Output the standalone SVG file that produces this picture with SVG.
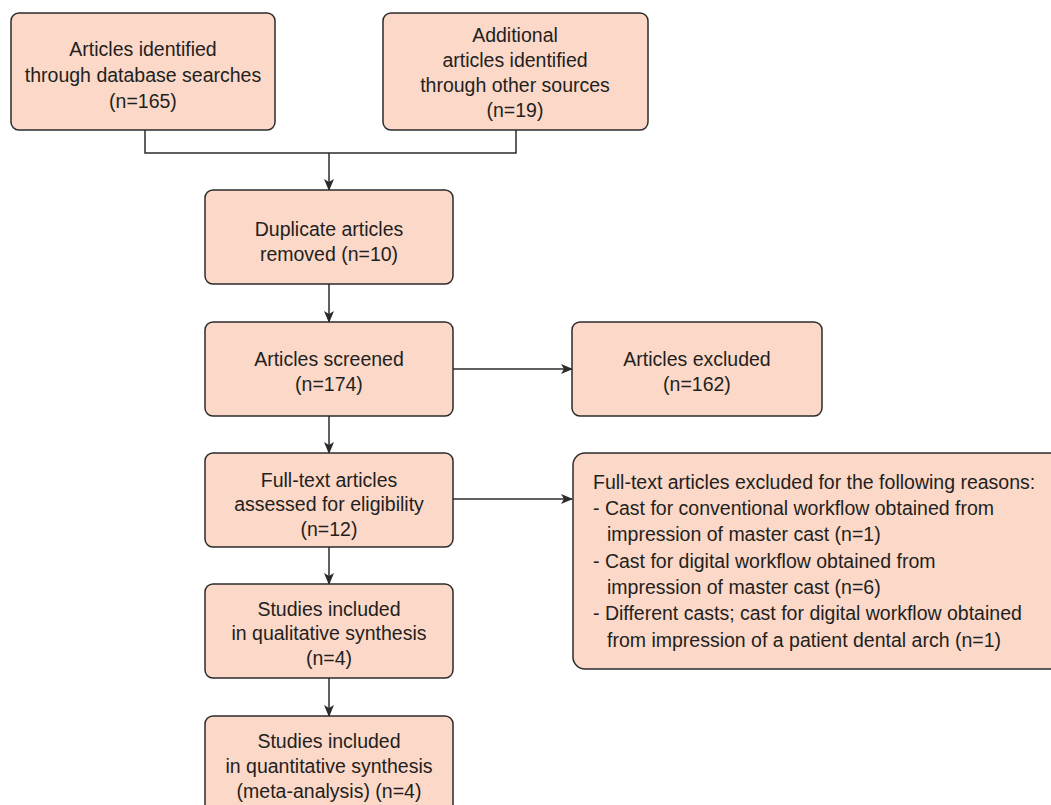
<svg xmlns="http://www.w3.org/2000/svg" width="1051" height="805" viewBox="0 0 1051 805">
<style>
.box{fill:#fbd8c8;stroke:#2b2b2b;stroke-width:1.5}
text{font-family:"Liberation Sans",Arial,sans-serif;font-size:19.5px;fill:#231f20}
.c{text-anchor:middle}
.ln{fill:none;stroke:#2b2b2b;stroke-width:1.5}
</style>
<defs>
<marker id="ah" markerWidth="12" markerHeight="10" refX="11" refY="5" orient="auto" markerUnits="userSpaceOnUse">
<path d="M0,0 L12,5 L0,10 L3,5 Z" fill="#2b2b2b"/>
</marker>
</defs>
<rect width="1051" height="805" fill="#fff"/>
<g id="connectors">
<path class="ln" d="M145,130 V153 H516 V130"/>
<path class="ln" d="M329,153 V190" marker-end="url(#ah)"/>
<path class="ln" d="M329,284 V322" marker-end="url(#ah)"/>
<path class="ln" d="M453,369 H572" marker-end="url(#ah)"/>
<path class="ln" d="M329,416 V453" marker-end="url(#ah)"/>
<path class="ln" d="M453,499 H572" marker-end="url(#ah)"/>
<path class="ln" d="M329,547 V584" marker-end="url(#ah)"/>
<path class="ln" d="M329,678 V716" marker-end="url(#ah)"/>
</g>
<g id="n1">
<rect class="box" x="11" y="13" width="264" height="117" rx="8"/>
<text class="c" x="143" y="56">Articles identified</text>
<text class="c" x="143" y="82">through database searches</text>
<text class="c" x="143" y="108">(n=165)</text>
</g>
<g id="n2">
<rect class="box" x="383" y="13" width="265" height="117" rx="8"/>
<text class="c" x="515" y="42">Additional</text>
<text class="c" x="515" y="67">articles identified</text>
<text class="c" x="515" y="92">through other sources</text>
<text class="c" x="515" y="117">(n=19)</text>
</g>
<g id="n3">
<rect class="box" x="205" y="190" width="248" height="94" rx="8"/>
<text class="c" x="329" y="236">Duplicate articles</text>
<text class="c" x="329" y="261">removed (n=10)</text>
</g>
<g id="n4">
<rect class="box" x="205" y="322" width="248" height="94" rx="8"/>
<text class="c" x="329" y="366">Articles screened</text>
<text class="c" x="329" y="391">(n=174)</text>
</g>
<g id="n5">
<rect class="box" x="572" y="322" width="250" height="94" rx="8"/>
<text class="c" x="697" y="366">Articles excluded</text>
<text class="c" x="697" y="391">(n=162)</text>
</g>
<g id="n6">
<rect class="box" x="205" y="453" width="248" height="94" rx="8"/>
<text class="c" x="329" y="487">Full-text articles</text>
<text class="c" x="329" y="511">assessed for eligibility</text>
<text class="c" x="329" y="536">(n=12)</text>
</g>
<g id="n7">
<rect class="box" x="573" y="453" width="490" height="216" rx="12"/>
<text x="593" y="489">Full-text articles excluded for the following reasons:</text>
<text x="593" y="515">- Cast for conventional workflow obtained from</text>
<text x="607" y="541">impression of master cast (n=1)</text>
<text x="593" y="568">- Cast for digital workflow obtained from</text>
<text x="607" y="594">impression of master cast (n=6)</text>
<text x="593" y="620">- Different casts; cast for digital workflow obtained</text>
<text x="607" y="647">from impression of a patient dental arch (n=1)</text>
</g>
<g id="n8">
<rect class="box" x="205" y="584" width="248" height="94" rx="8"/>
<text class="c" x="329" y="616">Studies included</text>
<text class="c" x="329" y="640">in qualitative synthesis</text>
<text class="c" x="329" y="665">(n=4)</text>
</g>
<g id="n9">
<rect class="box" x="205" y="716" width="248" height="100" rx="8"/>
<text class="c" x="329" y="748">Studies included</text>
<text class="c" x="329" y="773">in quantitative synthesis</text>
<text class="c" x="329" y="798">(meta-analysis) (n=4)</text>
</g>
</svg>
